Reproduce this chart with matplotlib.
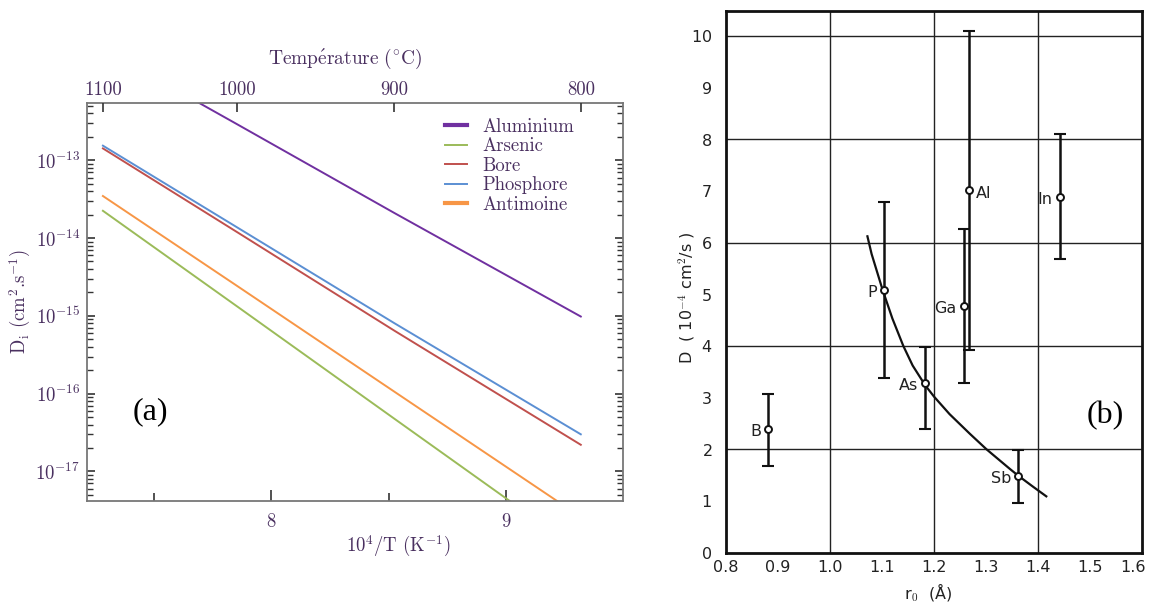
import matplotlib
matplotlib.use('Agg')
import matplotlib.pyplot as plt
from matplotlib.ticker import NullFormatter, LogLocator

# --- panel (a): diffusivities vs 1/T
temps_c = [1100, 1000, 900, 800]
dopants = ['Aluminium', 'Arsenic', 'Bore', 'Phosphore', 'Antimoine']
d_aluminium = [2.7e-12, 2.9e-13, 2.1e-14, 9.8e-16]
d_arsenic = [2.24e-14, 1.32e-15, 4.76e-17, 9.3e-19]
d_bore = [1.42e-13, 1.19e-14, 6.45e-16, 2.2e-17]
d_phosphore = [1.54e-13, 1.37e-14, 8.05e-16, 3.0e-17]
d_antimoine = [3.47e-14, 2.42e-15, 1.06e-16, 2.6e-18]
colors_a = ['#7030a0', '#9bbb59', '#c0504d', '#5b8fd3', '#f79646']

# --- panel (b): D vs tetrahedral radius
elements = ['B', 'P', 'As', 'Ga', 'Al', 'In', 'Sb']
r0 = [0.881, 1.103, 1.182, 1.257, 1.268, 1.442, 1.362]
d_val = [2.40, 5.09, 3.28, 4.78, 7.01, 6.88, 1.48]
d_low = [1.68, 3.37, 2.39, 3.28, 3.92, 5.69, 0.97]
d_high = [3.07, 6.78, 3.97, 6.27, 10.1, 8.10, 1.98]
curve_r = [1.072, 1.08, 1.101, 1.12, 1.141, 1.159, 1.183, 1.2, 1.23, 1.269,
           1.301, 1.346, 1.362, 1.39, 1.416]
curve_d = [6.12, 5.78, 5.09, 4.53, 4.0, 3.62, 3.24, 3.02, 2.68, 2.3,
           2.0, 1.62, 1.49, 1.28, 1.09]

plt.rcParams['mathtext.fontset'] = 'cm'
plt.rcParams['axes.formatter.use_mathtext'] = True

fig = plt.figure(figsize=(11.5, 6.06), dpi=100)
serif = ['cmr10', 'DejaVu Serif']
txt_col = '#4a3060'

# ---------------- (a)
ax = fig.add_axes([0.0757, 0.1733, 0.466, 0.657])
inv_t = [1e4 / (t + 273.15) for t in temps_c]
series = [d_aluminium, d_arsenic, d_bore, d_phosphore, d_antimoine]
for name, vals, c in zip(dopants, series, colors_a):
    ax.plot(inv_t, vals, color=c, lw=1.4, label=name)
ax.set_yscale('log')
ax.set_xlim(7.215, 9.498)
ax.set_ylim(10**-17.38, 10**-12.262)

ax.set_xticks([8, 9])
ax.set_xticklabels(['8', '9'])
ax.set_xticks([7.5, 8.5], minor=True)
ax.yaxis.set_major_locator(LogLocator(base=10, numticks=20))
ax.yaxis.set_minor_locator(LogLocator(base=10, subs=range(2, 10), numticks=20))
ax.yaxis.set_minor_formatter(NullFormatter())
ax.tick_params(axis='both', which='both', direction='in', top=False, right=True,
               colors='#333333', labelcolor=txt_col, labelsize=13.5)
ax.tick_params(axis='x', which='major', length=8, width=1.2, pad=9)
ax.tick_params(axis='x', which='minor', length=5.5, width=1.2)
ax.tick_params(axis='y', which='major', length=6, width=1.2, pad=5)
ax.tick_params(axis='y', which='minor', length=4.5, width=1.0)
for lab in ax.get_xticklabels() + ax.get_yticklabels():
    lab.set_family(serif)
for s in ax.spines.values():
    s.set_color('#777777')
    s.set_linewidth(1.3)
ax.text(0.58, -0.115, '10$^4$/T (K$^{-1}$)', transform=ax.transAxes, ha='center',
        va='center', family=serif, fontsize=13.5, color=txt_col)
ax.text(-0.125, 0.5, 'D$_\\mathrm{i}$ (cm$^2$.s$^{-1}$)', transform=ax.transAxes,
        ha='center', va='center', rotation=90, family=serif, fontsize=13.5, color=txt_col)

ax2 = ax.twiny()
ax2.set_xlim(ax.get_xlim())
ax2.set_xticks(inv_t)
ax2.set_xticklabels([str(t) for t in temps_c], family=serif, fontsize=13.5, color=txt_col)
ax2.tick_params(axis='x', direction='in', length=6.5, width=1.2, colors='#333333',
                labelcolor=txt_col, pad=3)
for s in ax2.spines.values():
    s.set_visible(False)
ax.text(0.481, 1.11, '$\\mathrm{Temp\\acute{e}rature\\ (^{\\circ}C)}$', transform=ax.transAxes,
        ha='center', va='center', fontsize=14, color=txt_col)

leg = ax.legend(loc='upper left', bbox_to_anchor=(0.668, 0.962), frameon=False,
                prop={'family': serif, 'size': 13.5}, handlelength=1.16,
                handletextpad=0.83, labelspacing=0.08, borderpad=0, borderaxespad=0,
                labelcolor=txt_col)
for h, name in zip(leg.legend_handles, dopants):
    if name in ('Aluminium', 'Antimoine'):
        h.set_linewidth(3)
ax.text(0.1175, 0.2245, '(a)', transform=ax.transAxes, ha='center', va='center',
        fontsize=23, family='Liberation Serif', color='black')

# ---------------- (b)
bx = fig.add_axes([0.6313, 0.088, 0.3617, 0.8944])
bx.set_xlim(0.8, 1.6)
bx.set_ylim(0, 10.485)
for g in [1.0, 1.2, 1.4]:
    bx.axvline(g, color='#222222', lw=1.0, zorder=1)
for g in [2, 4, 6, 8, 10]:
    bx.axhline(g, color='#222222', lw=1.0, zorder=1)

yerr = [[v - lo for v, lo in zip(d_val, d_low)], [hi - v for v, hi in zip(d_val, d_high)]]
bx.errorbar(r0, d_val, yerr=yerr, fmt='none', ecolor='#111111', elinewidth=1.8,
            capsize=4, capthick=1.5, zorder=3)
bx.plot(curve_r, curve_d, color='#111111', lw=1.6, zorder=3)
bx.plot(r0, d_val, 'o', ms=5, mfc='white', mec='#111111', mew=1.4, zorder=4)

sides = {'B': -1, 'P': -1, 'As': -1, 'Ga': -1, 'Al': 1, 'In': -1, 'Sb': -1}
for el, x, y in zip(elements, r0, d_val):
    side = sides[el]
    bx.annotate(el, (x, y), xytext=(5 * side, -2), textcoords='offset points',
                ha='left' if side > 0 else 'right', va='center', fontsize=11.5,
                color='#222222', zorder=5)

bx.set_xticks([0.8, 0.9, 1.0, 1.1, 1.2, 1.3, 1.4, 1.5, 1.6])
bx.set_xticklabels(['0.8', '0.9', '1.0', '1.1', '1.2', '1.3', '1.4', '1.5', ''])
bx.annotate('1.6', (1.6, 0), xycoords=('data', 'axes fraction'), xytext=(3, -5),
            textcoords='offset points', ha='right', va='top', fontsize=11.5,
            color='#222222')
bx.set_yticks(range(0, 11))
bx.tick_params(axis='both', length=0, labelsize=11.5, labelcolor='#222222')
bx.tick_params(axis='x', pad=5)
bx.tick_params(axis='y', pad=10)
for s in bx.spines.values():
    s.set_color('#111111')
    s.set_linewidth(2.0)
bx.text(0.486, -0.074, 'r$_0$  (Å)', transform=bx.transAxes, ha='center', va='center',
        fontsize=11.5, color='#222222')
bx.text(-0.0945, 0.47, 'D  ( 10$^{-4}$ cm$^2$/s )', transform=bx.transAxes, ha='center',
        va='center', rotation=90, fontsize=11.5, color='#222222')
bx.text(0.911, 0.253, '(b)', transform=bx.transAxes, ha='center', va='center',
        fontsize=23, family='Liberation Serif', color='black')

plt.savefig('out.png', dpi=100)
plt.close()
